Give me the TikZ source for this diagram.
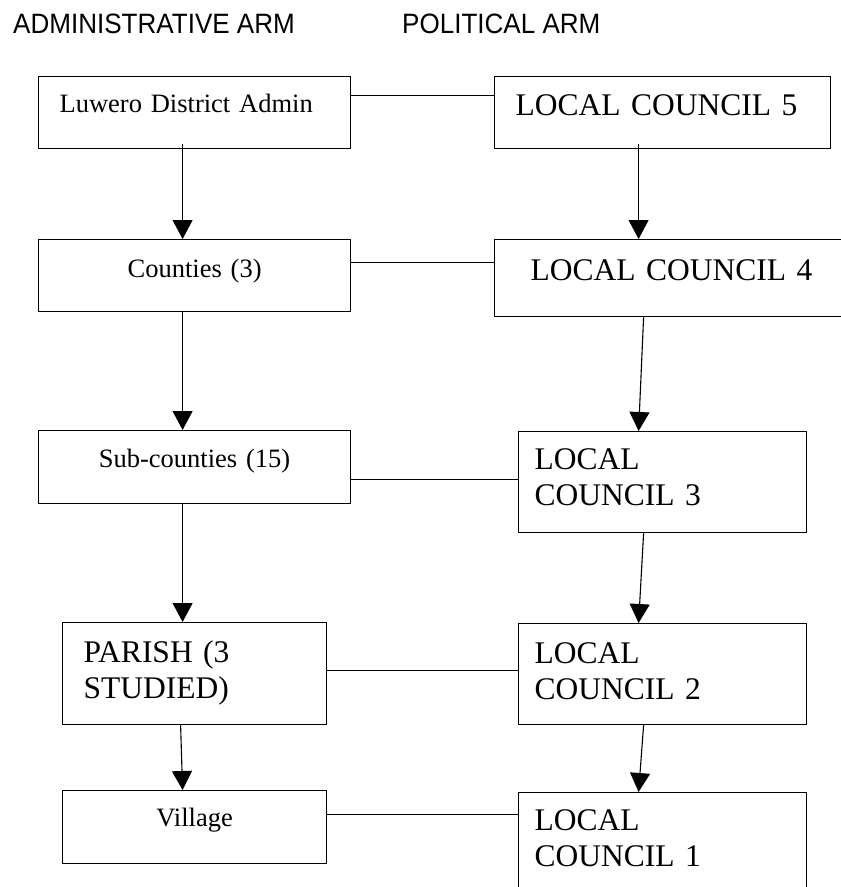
\documentclass[tikz,border=0pt]{standalone}
\usepackage{fontspec}
\usepackage{tikz}
\usetikzlibrary{arrows.meta}

\newfontfamily\timesfont{Liberation Serif}
\newfontfamily\narrowfont[FakeStretch=0.93]{Liberation Sans}
\newcommand{\smallserif}{\timesfont\fontsize{26.5}{30}\selectfont}
\newcommand{\bigserif}{\timesfont\fontsize{31.5}{36}\selectfont}
\newcommand{\headfont}{\narrowfont\fontsize{28}{30}\selectfont}

\tikzset{
  unit/.style={draw, line width=1.2pt, anchor=north west,
    inner ysep=0pt, inner xsep=21pt, font=\smallserif},
  council/.style={unit, font=\bigserif, align=left},
  heading/.style={anchor=base west, inner sep=0pt, font=\headfont},
  link/.style={line width=1pt},
  down/.style={line width=1.1pt, ->},
}

\begin{document}
\begin{tikzpicture}[x=1pt, y=-1pt, >={Triangle[length=19pt, width=20pt]}]

\useasboundingbox (0,0) rectangle (841,887);

% Headings
\node[heading] (admhead) at (13,33) {ADMINISTRATIVE ARM};
\node[heading] (polhead) at (402,33) {POLITICAL ARM};

% Administrative arm
\node[unit, align=left, text width=270pt, minimum width=312pt,
  text height=36pt, text depth=36pt] (district) at (38,76) {Luwero District Admin};
\node[unit, align=center, text width=270pt, minimum width=312pt,
  text height=38pt, text depth=34pt] (counties) at (38,239) {Counties (3)};
\node[unit, align=center, text width=270pt, minimum width=312pt,
  text height=37pt, text depth=36pt] (subcounties) at (38,430) {Sub-counties (15)};
\node[council, text width=222pt, minimum width=264pt,
  text height=40pt, text depth=62pt] (parish) at (62,622) {PARISH (3\\STUDIED)};
\node[unit, align=center, text width=222pt, minimum width=264pt,
  text height=36pt, text depth=37pt] (village) at (62,790) {Village};

% Political arm
\node[council, text width=294pt, minimum width=336pt,
  text height=39pt, text depth=33pt] (lcfive) at (494,76) {LOCAL COUNCIL 5};
\node[council, inner xsep=36pt, text width=288pt, minimum width=360pt,
  text height=41pt, text depth=36pt] (lcfour) at (494,239) {LOCAL COUNCIL 4};
\node[council, inner xsep=16pt, text width=256pt, minimum width=288pt,
  text height=38pt, text depth=63pt] (lcthree) at (518,431) {LOCAL\\COUNCIL 3};
\node[council, inner xsep=16pt, text width=256pt, minimum width=288pt,
  text height=40pt, text depth=61pt] (lctwo) at (518,623) {LOCAL\\COUNCIL 2};
\node[council, inner xsep=16pt, text width=256pt, minimum width=288pt,
  text height=38pt, text depth=63pt] (lcone) at (518,792) {LOCAL\\COUNCIL 1};

% Downward arrows, administrative arm
\draw[down] ([xshift=-12pt, yshift=5pt]district.south) -- ([xshift=-12pt]counties.north);
\draw[down] ([xshift=-12pt]counties.south) -- ([xshift=-12pt]subcounties.north);
\draw[down] ([xshift=-12pt]subcounties.south) -- ([xshift=-12pt]parish.north);
\draw[down] ([xshift=-14pt]parish.south) -- ([xshift=-12pt]village.north);

% Downward arrows, political arm
\draw[down] ([xshift=-24pt, yshift=5pt]lcfive.south) -- ([xshift=-36pt]lcfour.north);
\draw[down] ([xshift=-31pt]lcfour.south) -- ([xshift=-24pt]lcthree.north);
\draw[down] ([xshift=-19pt]lcthree.south) -- ([xshift=-24pt]lctwo.north);
\draw[down] ([xshift=-19pt]lctwo.south) -- ([xshift=-24pt]lcone.north);

% Links between the two arms
\draw[link] ([yshift=17pt]district.east) -- ([yshift=17pt]lcfive.west);
\draw[link] ([yshift=13pt]counties.east) -- ([yshift=15.5pt]lcfour.west);
\draw[link] ([yshift=-12.5pt]subcounties.east) -- ([yshift=2.5pt]lcthree.west);
\draw[link] ([yshift=3pt]parish.east) -- ([yshift=3.5pt]lctwo.west);
\draw[link] ([yshift=12.5pt]village.east) -- ([yshift=28.5pt]lcone.west);

\end{tikzpicture}
\end{document}
